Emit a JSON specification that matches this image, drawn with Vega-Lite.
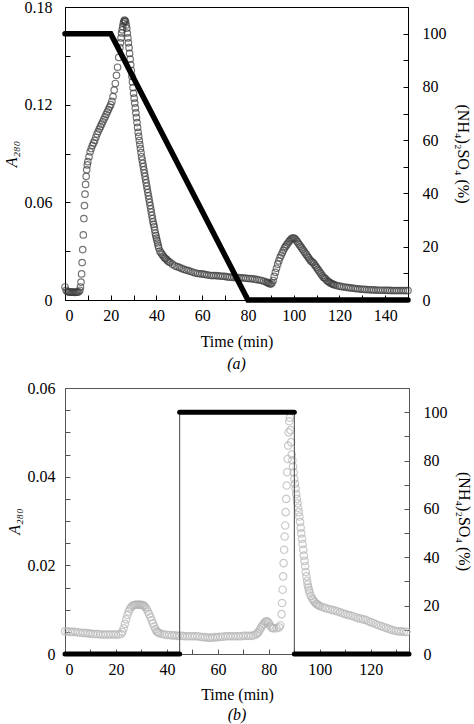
{
"$schema":"https://vega.github.io/schema/vega-lite/v6.json",
"background":"white",
"padding":{"left":2,"top":-2,"right":0,"bottom":0},
"spacing":6,
"config":{
 "font":"Liberation Serif",
 "view":{"stroke":"#000","strokeWidth":1},
 "text":{"font":"Liberation Serif"},
 "axis":{"grid":false,"domainColor":"#000","domainWidth":1,"tickColor":"#000","tickSize":-5,"tickWidth":1,"labelFont":"Liberation Serif","titleFont":"Liberation Serif","labelFontSize":16,"labelColor":"#000","titleFontSize":16,"titleFontWeight":"normal","titleColor":"#000","labelPadding":12},
 "title":{"font":"Liberation Serif","fontSize":16,"fontWeight":"normal","color":"#000"}
},
"datasets":{
 "a":[{"t":0,"a":0.008},{"t":0.5,"a":0.006},{"t":1,"a":0.0052},{"t":1.5,"a":0.005},{"t":2,"a":0.0049},{"t":2.5,"a":0.0048},{"t":3,"a":0.0048},{"t":3.5,"a":0.0048},{"t":4,"a":0.0047},{"t":4.5,"a":0.0047},{"t":5,"a":0.0048},{"t":5.5,"a":0.0049},{"t":6,"a":0.005},{"t":6.5,"a":0.006},{"t":6.75,"a":0.008},{"t":7,"a":0.011},{"t":7.25,"a":0.016},{"t":7.5,"a":0.023},{"t":7.75,"a":0.031},{"t":8,"a":0.04},{"t":8.25,"a":0.05},{"t":8.5,"a":0.058},{"t":8.75,"a":0.065},{"t":9,"a":0.071},{"t":9.25,"a":0.076},{"t":9.5,"a":0.08},{"t":9.75,"a":0.083},{"t":10,"a":0.085},{"t":10.5,"a":0.088},{"t":11,"a":0.091},{"t":11.5,"a":0.093},{"t":12,"a":0.095},{"t":12.5,"a":0.0965},{"t":13,"a":0.098},{"t":13.5,"a":0.1},{"t":14,"a":0.102},{"t":14.5,"a":0.1035},{"t":15,"a":0.105},{"t":15.5,"a":0.1065},{"t":16,"a":0.108},{"t":16.5,"a":0.1095},{"t":17,"a":0.111},{"t":17.5,"a":0.1125},{"t":18,"a":0.114},{"t":18.5,"a":0.1155},{"t":19,"a":0.117},{"t":19.5,"a":0.1185},{"t":20,"a":0.12},{"t":20.5,"a":0.122},{"t":21,"a":0.125},{"t":21.5,"a":0.129},{"t":22,"a":0.133},{"t":22.5,"a":0.138},{"t":23,"a":0.143},{"t":23.5,"a":0.149},{"t":24,"a":0.155},{"t":24.25,"a":0.158},{"t":24.5,"a":0.161},{"t":24.75,"a":0.164},{"t":25,"a":0.166},{"t":25.25,"a":0.168},{"t":25.5,"a":0.17},{"t":25.75,"a":0.171},{"t":26,"a":0.172},{"t":26.25,"a":0.1715},{"t":26.5,"a":0.171},{"t":26.75,"a":0.169},{"t":27,"a":0.167},{"t":27.25,"a":0.164},{"t":27.5,"a":0.161},{"t":27.75,"a":0.158},{"t":28,"a":0.155},{"t":28.25,"a":0.1515},{"t":28.5,"a":0.148},{"t":28.75,"a":0.1445},{"t":29,"a":0.141},{"t":29.25,"a":0.1375},{"t":29.5,"a":0.134},{"t":29.75,"a":0.1305},{"t":30,"a":0.127},{"t":30.25,"a":0.124},{"t":30.5,"a":0.121},{"t":30.75,"a":0.118},{"t":31,"a":0.115},{"t":31.25,"a":0.112},{"t":31.5,"a":0.109},{"t":31.75,"a":0.106},{"t":32,"a":0.103},{"t":32.25,"a":0.1005},{"t":32.5,"a":0.098},{"t":32.75,"a":0.0955},{"t":33,"a":0.093},{"t":33.25,"a":0.0905},{"t":33.5,"a":0.088},{"t":33.75,"a":0.086},{"t":34,"a":0.084},{"t":34.25,"a":0.082},{"t":34.5,"a":0.08},{"t":34.75,"a":0.078},{"t":35,"a":0.076},{"t":35.25,"a":0.074},{"t":35.5,"a":0.072},{"t":35.75,"a":0.07},{"t":36,"a":0.068},{"t":36.25,"a":0.066},{"t":36.5,"a":0.064},{"t":36.75,"a":0.062},{"t":37,"a":0.06},{"t":37.25,"a":0.058},{"t":37.5,"a":0.056},{"t":37.75,"a":0.054},{"t":38,"a":0.052},{"t":38.25,"a":0.05},{"t":38.5,"a":0.048},{"t":38.75,"a":0.0465},{"t":39,"a":0.045},{"t":39.25,"a":0.043},{"t":39.5,"a":0.041},{"t":39.75,"a":0.0395},{"t":40,"a":0.038},{"t":40.25,"a":0.0365},{"t":40.5,"a":0.035},{"t":40.75,"a":0.0335},{"t":41,"a":0.032},{"t":41.5,"a":0.03},{"t":42,"a":0.029},{"t":42.5,"a":0.028},{"t":43,"a":0.027},{"t":43.5,"a":0.026},{"t":44,"a":0.0255},{"t":44.5,"a":0.0248},{"t":45,"a":0.024},{"t":45.5,"a":0.0235},{"t":46,"a":0.023},{"t":47,"a":0.022},{"t":48,"a":0.021},{"t":49,"a":0.0205},{"t":50,"a":0.02},{"t":51,"a":0.0194},{"t":52,"a":0.0188},{"t":53,"a":0.0184},{"t":54,"a":0.018},{"t":55,"a":0.0175},{"t":56,"a":0.017},{"t":57,"a":0.0166},{"t":58,"a":0.0163},{"t":59,"a":0.0161},{"t":60,"a":0.016},{"t":61,"a":0.0157},{"t":62,"a":0.0155},{"t":63,"a":0.0152},{"t":64,"a":0.015},{"t":65,"a":0.015},{"t":66,"a":0.015},{"t":67,"a":0.0148},{"t":68,"a":0.0147},{"t":69,"a":0.0146},{"t":70,"a":0.0145},{"t":71,"a":0.0142},{"t":72,"a":0.014},{"t":73,"a":0.0139},{"t":74,"a":0.0138},{"t":75,"a":0.0138},{"t":76,"a":0.0137},{"t":77,"a":0.0136},{"t":78,"a":0.0135},{"t":79,"a":0.0134},{"t":80,"a":0.0132},{"t":81,"a":0.0131},{"t":82,"a":0.013},{"t":83,"a":0.0128},{"t":84,"a":0.0125},{"t":85,"a":0.0123},{"t":86,"a":0.012},{"t":87,"a":0.0115},{"t":88,"a":0.011},{"t":88.5,"a":0.0107},{"t":89,"a":0.0104},{"t":89.5,"a":0.01},{"t":90,"a":0.0098},{"t":90.5,"a":0.0105},{"t":91,"a":0.012},{"t":91.5,"a":0.0145},{"t":92,"a":0.017},{"t":92.5,"a":0.0195},{"t":93,"a":0.022},{"t":93.5,"a":0.024},{"t":94,"a":0.026},{"t":94.5,"a":0.0275},{"t":95,"a":0.029},{"t":95.5,"a":0.0305},{"t":96,"a":0.032},{"t":96.5,"a":0.033},{"t":97,"a":0.034},{"t":97.5,"a":0.035},{"t":98,"a":0.036},{"t":98.5,"a":0.0368},{"t":99,"a":0.0375},{"t":99.5,"a":0.038},{"t":100,"a":0.038},{"t":100.5,"a":0.0378},{"t":101,"a":0.037},{"t":101.5,"a":0.036},{"t":102,"a":0.035},{"t":102.5,"a":0.034},{"t":103,"a":0.033},{"t":103.5,"a":0.032},{"t":104,"a":0.031},{"t":104.5,"a":0.03},{"t":105,"a":0.029},{"t":105.5,"a":0.028},{"t":106,"a":0.027},{"t":106.5,"a":0.026},{"t":107,"a":0.025},{"t":107.5,"a":0.024},{"t":108,"a":0.0235},{"t":108.5,"a":0.023},{"t":109,"a":0.022},{"t":109.5,"a":0.021},{"t":110,"a":0.02},{"t":110.5,"a":0.019},{"t":111,"a":0.018},{"t":111.5,"a":0.017},{"t":112,"a":0.016},{"t":112.5,"a":0.015},{"t":113,"a":0.014},{"t":113.5,"a":0.0135},{"t":114,"a":0.013},{"t":114.5,"a":0.012},{"t":115,"a":0.0115},{"t":115.5,"a":0.011},{"t":116,"a":0.0105},{"t":116.5,"a":0.0101},{"t":117,"a":0.0098},{"t":117.5,"a":0.0095},{"t":118,"a":0.0092},{"t":119,"a":0.0088},{"t":120,"a":0.0085},{"t":121,"a":0.0082},{"t":122,"a":0.008},{"t":123,"a":0.0078},{"t":124,"a":0.0076},{"t":125,"a":0.0074},{"t":126,"a":0.0072},{"t":127,"a":0.007},{"t":128,"a":0.0069},{"t":129,"a":0.0067},{"t":130,"a":0.0066},{"t":131,"a":0.0065},{"t":132,"a":0.0064},{"t":133,"a":0.0063},{"t":134,"a":0.0062},{"t":135,"a":0.0062},{"t":136,"a":0.0061},{"t":137,"a":0.006},{"t":138,"a":0.006},{"t":139,"a":0.006},{"t":140,"a":0.006},{"t":141,"a":0.0059},{"t":142,"a":0.0059},{"t":143,"a":0.0058},{"t":144,"a":0.0058},{"t":145,"a":0.0058},{"t":146,"a":0.0058},{"t":147,"a":0.0058},{"t":148,"a":0.0058},{"t":149,"a":0.0058},{"t":150,"a":0.0058}],
 "aSalt":[{"t":0,"s":100},{"t":20,"s":100},{"t":80,"s":0},{"t":150,"s":0}],
 "b":[{"t":0,"a":0.0051},{"t":1,"a":0.0051},{"t":2,"a":0.005},{"t":3,"a":0.005},{"t":4,"a":0.005},{"t":5,"a":0.0049},{"t":6,"a":0.0048},{"t":7,"a":0.0048},{"t":8,"a":0.0047},{"t":9,"a":0.0047},{"t":10,"a":0.0046},{"t":11,"a":0.0045},{"t":12,"a":0.0045},{"t":13,"a":0.0045},{"t":14,"a":0.0044},{"t":15,"a":0.0044},{"t":16,"a":0.0044},{"t":17,"a":0.0044},{"t":18,"a":0.0044},{"t":19,"a":0.0044},{"t":20,"a":0.0044},{"t":21,"a":0.0044},{"t":22,"a":0.0045},{"t":22.5,"a":0.005},{"t":23,"a":0.0058},{"t":23.5,"a":0.0068},{"t":24,"a":0.0078},{"t":24.5,"a":0.0088},{"t":25,"a":0.0096},{"t":25.5,"a":0.0102},{"t":26,"a":0.0106},{"t":26.5,"a":0.0109},{"t":27,"a":0.011},{"t":27.5,"a":0.0111},{"t":28,"a":0.0111},{"t":28.5,"a":0.0111},{"t":29,"a":0.0111},{"t":29.5,"a":0.0111},{"t":30,"a":0.0111},{"t":30.5,"a":0.011},{"t":31,"a":0.0109},{"t":31.5,"a":0.0106},{"t":32,"a":0.0102},{"t":32.5,"a":0.0096},{"t":33,"a":0.009},{"t":33.5,"a":0.0083},{"t":34,"a":0.0076},{"t":34.5,"a":0.0069},{"t":35,"a":0.0062},{"t":35.5,"a":0.0056},{"t":36,"a":0.0051},{"t":36.5,"a":0.0049},{"t":37,"a":0.0047},{"t":38,"a":0.0045},{"t":39,"a":0.0044},{"t":40,"a":0.0043},{"t":41,"a":0.0043},{"t":42,"a":0.0042},{"t":43,"a":0.0042},{"t":44,"a":0.0041},{"t":45,"a":0.0041},{"t":46,"a":0.0041},{"t":47,"a":0.004},{"t":48,"a":0.004},{"t":49,"a":0.004},{"t":50,"a":0.004},{"t":51,"a":0.004},{"t":52,"a":0.004},{"t":53,"a":0.0039},{"t":54,"a":0.0038},{"t":55,"a":0.0038},{"t":56,"a":0.0037},{"t":57,"a":0.0037},{"t":58,"a":0.0037},{"t":59,"a":0.0038},{"t":60,"a":0.0038},{"t":61,"a":0.0039},{"t":62,"a":0.0039},{"t":63,"a":0.004},{"t":64,"a":0.004},{"t":65,"a":0.004},{"t":66,"a":0.004},{"t":67,"a":0.004},{"t":68,"a":0.004},{"t":69,"a":0.004},{"t":70,"a":0.0041},{"t":71,"a":0.0041},{"t":72,"a":0.0041},{"t":73,"a":0.0041},{"t":74,"a":0.0042},{"t":75,"a":0.0044},{"t":75.5,"a":0.0047},{"t":76,"a":0.005},{"t":76.5,"a":0.0055},{"t":77,"a":0.006},{"t":77.5,"a":0.0065},{"t":78,"a":0.0068},{"t":78.5,"a":0.0072},{"t":79,"a":0.0074},{"t":79.5,"a":0.0073},{"t":80,"a":0.007},{"t":80.5,"a":0.0065},{"t":81,"a":0.006},{"t":81.5,"a":0.0058},{"t":82,"a":0.0058},{"t":83,"a":0.0058},{"t":84,"a":0.006},{"t":84.5,"a":0.0065},{"t":85,"a":0.009},{"t":85.2,"a":0.0115},{"t":85.4,"a":0.0145},{"t":85.6,"a":0.0175},{"t":85.8,"a":0.0205},{"t":86,"a":0.0235},{"t":86.2,"a":0.0265},{"t":86.4,"a":0.029},{"t":86.6,"a":0.032},{"t":86.8,"a":0.035},{"t":87,"a":0.038},{"t":87.2,"a":0.041},{"t":87.4,"a":0.044},{"t":87.6,"a":0.047},{"t":87.8,"a":0.05},{"t":88,"a":0.0525},{"t":88.25,"a":0.0533},{"t":88.5,"a":0.0505},{"t":88.75,"a":0.0478},{"t":89,"a":0.045},{"t":89.25,"a":0.0437},{"t":89.5,"a":0.0423},{"t":89.75,"a":0.041},{"t":90,"a":0.0395},{"t":90.25,"a":0.0384},{"t":90.5,"a":0.0373},{"t":90.75,"a":0.0361},{"t":91,"a":0.035},{"t":91.25,"a":0.034},{"t":91.5,"a":0.033},{"t":91.75,"a":0.032},{"t":92,"a":0.031},{"t":92.25,"a":0.0298},{"t":92.5,"a":0.0285},{"t":92.75,"a":0.0272},{"t":93,"a":0.026},{"t":93.25,"a":0.0248},{"t":93.5,"a":0.0235},{"t":93.75,"a":0.0222},{"t":94,"a":0.021},{"t":94.25,"a":0.0198},{"t":94.5,"a":0.0185},{"t":94.75,"a":0.0175},{"t":95,"a":0.0165},{"t":95.25,"a":0.0157},{"t":95.5,"a":0.015},{"t":95.75,"a":0.0144},{"t":96,"a":0.0138},{"t":96.5,"a":0.0131},{"t":97,"a":0.0125},{"t":97.5,"a":0.0121},{"t":98,"a":0.0117},{"t":98.5,"a":0.0114},{"t":99,"a":0.0112},{"t":99.5,"a":0.011},{"t":100,"a":0.0108},{"t":101,"a":0.0106},{"t":102,"a":0.0104},{"t":103,"a":0.0102},{"t":104,"a":0.0101},{"t":105,"a":0.0099},{"t":106,"a":0.0098},{"t":107,"a":0.0096},{"t":108,"a":0.0094},{"t":109,"a":0.0092},{"t":110,"a":0.009},{"t":111,"a":0.0088},{"t":112,"a":0.0087},{"t":113,"a":0.0085},{"t":114,"a":0.0083},{"t":115,"a":0.0081},{"t":116,"a":0.008},{"t":117,"a":0.0078},{"t":118,"a":0.0077},{"t":119,"a":0.0074},{"t":120,"a":0.0072},{"t":121,"a":0.007},{"t":122,"a":0.0067},{"t":123,"a":0.0065},{"t":124,"a":0.0063},{"t":125,"a":0.0061},{"t":126,"a":0.0059},{"t":127,"a":0.0057},{"t":128,"a":0.0055},{"t":129,"a":0.0053},{"t":130,"a":0.0052},{"t":131,"a":0.0051},{"t":132,"a":0.0051},{"t":133,"a":0.005},{"t":134,"a":0.005}],
 "bStep":[{"t":0,"s":0,"i":0},{"t":45,"s":0,"i":1},{"t":45,"s":100,"i":2},{"t":90,"s":100,"i":3},{"t":90,"s":0,"i":4},{"t":135,"s":0,"i":5}],
 "bThick":[{"t":0,"s":0,"g":1},{"t":45,"s":0,"g":1},{"t":45,"s":100,"g":2},{"t":90,"s":100,"g":2},{"t":90,"s":0,"g":3},{"t":135,"s":0,"g":3}]
},
"vconcat":[
 {
  "width":343,"height":293,
  "title":{"text":"(a)","orient":"bottom","fontStyle":"italic","offset":7},
  "encoding":{"x":{"field":"t","type":"quantitative","scale":{"domain":[0,150],"nice":false},"axis":{"values":[0,10,20,30,40,50,60,70,80,90,100,110,120,130,140,150],"labelExpr":"datum.value % 20 == 0 ? datum.label : ''","title":"Time (min)","titlePadding":10}}},
  "layer":[
   {"data":{"name":"a"},"mark":{"type":"point","shape":"circle","filled":false,"size":42,"color":"#3c3c3c","strokeWidth":1.2,"clip":false},
    "encoding":{"y":{"field":"a","type":"quantitative","scale":{"domain":[0,0.18],"nice":false},"axis":{"orient":"left","values":[0,0.03,0.06,0.09,0.12,0.15,0.18],"labelExpr":"round(datum.value*100) % 6 == 0 ? (datum.value == 0 ? '0' : format(datum.value, '.2f')) : ''","labelPadding":18,"title":"A₂₈₀","titleFontStyle":"italic","titlePadding":5}}}},
   {"data":{"name":"aSalt"},"mark":{"type":"line","color":"#000","strokeWidth":5.5,"strokeCap":"round"},
    "encoding":{"y":{"field":"s","type":"quantitative","scale":{"domain":[0,110],"nice":false},"axis":{"orient":"right","values":[0,10,20,30,40,50,60,70,80,90,100,110],"labelExpr":"datum.value % 20 == 0 ? datum.label : ''","labelPadding":19,"title":"(NH₄)₂SO₄ (%)","titlePadding":8}}}}
  ],
  "resolve":{"scale":{"y":"independent"}}
 },
 {
  "width":344,"height":266,
  "view":{"stroke":"#555"},
  "title":{"text":"(b)","orient":"bottom","fontStyle":"italic","offset":5},
  "encoding":{"x":{"field":"t","type":"quantitative","scale":{"domain":[0,135],"nice":false},"axis":{"values":[0,10,20,30,40,50,60,70,80,90,100,110,120,130],"labelExpr":"datum.value % 20 == 0 ? datum.label : ''","title":"Time (min)","titlePadding":9,"domainColor":"#555","tickColor":"#555"}}},
  "layer":[
   {"data":{"name":"b"},"mark":{"type":"point","shape":"circle","filled":false,"size":55,"color":"#b4b4b4","strokeWidth":1.2,"clip":false},
    "encoding":{"y":{"field":"a","type":"quantitative","scale":{"domain":[0,0.06],"nice":false},"axis":{"orient":"left","values":[0,0.005,0.01,0.015,0.02,0.025,0.03,0.035,0.04,0.045,0.05,0.055,0.06],"labelExpr":"round(datum.value*1000) % 20 == 0 ? (datum.value == 0 ? '0' : format(datum.value, '.2f')) : ''","labelPadding":15,"title":"A₂₈₀","titleFontStyle":"italic","titlePadding":5,"domainColor":"#555","tickColor":"#555"}}}},
   {
    "encoding":{"y":{"field":"s","type":"quantitative","scale":{"domain":[0,110],"nice":false},"axis":{"orient":"right","values":[0,10,20,30,40,50,60,70,80,90,100,110],"labelExpr":"datum.value % 20 == 0 ? datum.label : ''","labelPadding":19,"title":"(NH₄)₂SO₄ (%)","titlePadding":8,"domainColor":"#555","tickColor":"#555"}}},
    "layer":[
     {"data":{"name":"bStep"},"mark":{"type":"line","color":"#444","strokeWidth":1},"encoding":{"order":{"field":"i","type":"quantitative"}}},
     {"data":{"name":"bThick"},"mark":{"type":"line","color":"#000","strokeWidth":5,"strokeCap":"round"},"encoding":{"detail":{"field":"g","type":"nominal"}}}
    ]
   }
  ],
  "resolve":{"scale":{"y":"independent"}}
 }
]
}
